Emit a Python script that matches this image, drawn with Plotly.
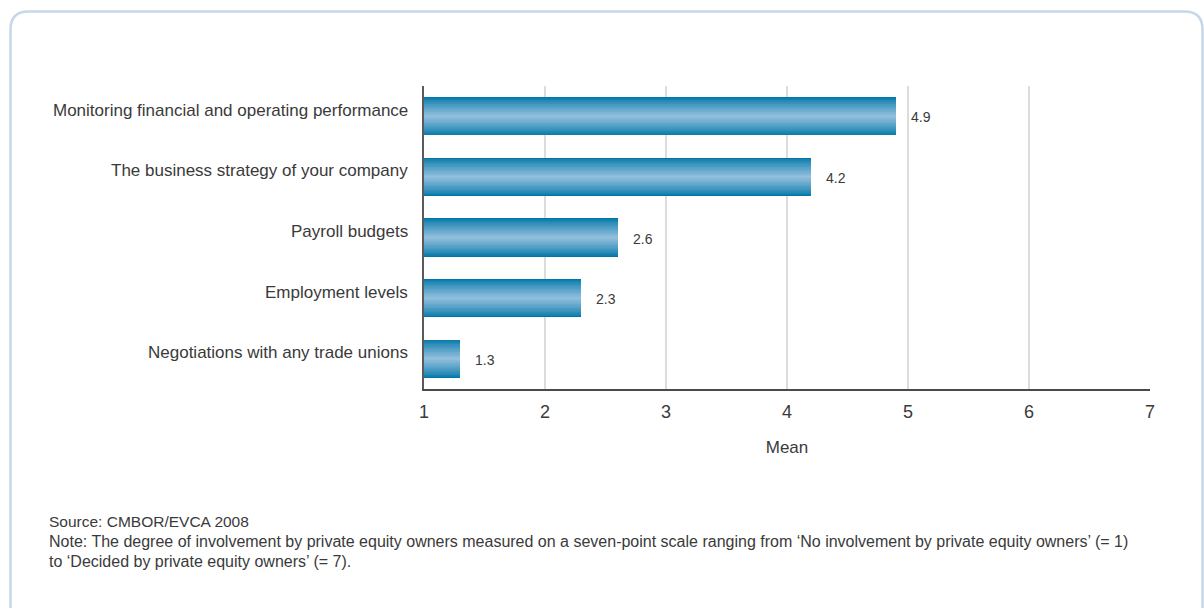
import plotly.graph_objects as go

# Survey results: degree of private equity owner involvement (mean, 1-7 scale)
categories = [
    "Monitoring financial and operating performance",
    "The business strategy of your company",
    "Payroll budgets",
    "Employment levels",
    "Negotiations with any trade unions",
]
means = [4.9, 4.2, 2.6, 2.3, 1.3]
x_ticks = [1, 2, 3, 4, 5, 6, 7]

source_text = "Source: CMBOR/EVCA 2008"
note_lines = [
    "Note: The degree of involvement by private equity owners measured on a seven-point scale ranging from "
    "\u2018No involvement by private equity owners\u2019 (= 1)",
    "to \u2018Decided by private equity owners\u2019 (= 7).",
]

FONT = "Liberation Sans, Arial, sans-serif"
TEXT = "#3a3a3a"

# Canvas geometry (pixels)
W, H = 1204, 608
ML, MR, MT, MB = 424, 54, 86, 219
PW, PH = W - ML - MR, H - MT - MB


def px(x):
    return (x - ML) / PW


def py(y):
    return (H - MB - y) / PH


def blend(c1, c2, t):
    a = [int(c1[i:i + 2], 16) for i in (1, 3, 5)]
    b = [int(c2[i:i + 2], 16) for i in (1, 3, 5)]
    return "#" + "".join(f"{round(p + (q - p) * t):02x}" for p, q in zip(a, b))


fig = go.Figure()

# Shaded bars: nested overlays from the dark outer band to the light centre
bar_width = 0.63
n = 24
for i in range(n):
    t = (i / (n - 1)) ** 0.8
    w = bar_width * (1 - i / n)
    fig.add_trace(go.Bar(
        y=categories, x=means, orientation="h",
        width=w, marker=dict(color=blend("#0077a8", "#90bedc", t), line=dict(width=0)),
        hoverinfo="skip" if i else "x+y", showlegend=False,
    ))

# Category labels left of the axis
for cat in categories:
    fig.add_annotation(x=px(410), y=cat, xref="paper", text=cat, showarrow=False,
                       xanchor="right", yshift=6,
                       font=dict(family=FONT, size=17, color=TEXT))

# Value labels beside each bar
for cat, v in zip(categories, means):
    fig.add_annotation(x=v, y=cat, text=f"{v}", showarrow=False,
                       xanchor="left", xshift=13, yshift=-1,
                       font=dict(family=FONT, size=14, color=TEXT))

# Source and note beneath the chart
fig.add_annotation(x=px(47), y=py(521), xref="paper", yref="paper", text=source_text,
                   showarrow=False, xanchor="left", yanchor="middle",
                   font=dict(family=FONT, size=15.5, color=TEXT))
for k, line in enumerate(note_lines):
    fig.add_annotation(x=px(47), y=py(541 + 20 * k), xref="paper", yref="paper", text=line,
                       showarrow=False, xanchor="left", yanchor="middle",
                       font=dict(family=FONT, size=16, color=TEXT))

# Rounded frame around the figure
x0, y0, x1, y1, r = 10.5, 11.5, 1202.5, 640, 18
path = (f"M {px(x0)},{py(y1)} L {px(x0)},{py(y0 + r)} "
        f"Q {px(x0)},{py(y0)} {px(x0 + r)},{py(y0)} "
        f"L {px(x1 - r)},{py(y0)} Q {px(x1)},{py(y0)} {px(x1)},{py(y0 + r)} "
        f"L {px(x1)},{py(y1)}")
fig.add_shape(type="path", path=path, xref="paper", yref="paper",
              line=dict(color="#c6d7e8", width=2.5), layer="below")

fig.update_layout(
    width=W, height=H,
    margin=dict(l=ML, r=MR, t=MT, b=MB),
    paper_bgcolor="white", plot_bgcolor="white",
    barmode="overlay", bargap=0,
    font=dict(family=FONT, color=TEXT),
    xaxis=dict(
        range=[1, 7], tickvals=x_ticks, ticktext=[str(t) for t in x_ticks],
        showgrid=True, gridcolor="#dcdcdc", gridwidth=2,
        showline=True, linecolor="#4a4a4a", linewidth=1.5,
        zeroline=False, ticks="", ticklabelstandoff=6,
        tickfont=dict(size=18, color=TEXT),
        title=dict(text="Mean", font=dict(size=17, color=TEXT), standoff=20),
    ),
    yaxis=dict(
        categoryorder="array", categoryarray=categories, autorange="reversed",
        showgrid=False, showline=True, linecolor="#5a5a5a", linewidth=2,
        ticks="", showticklabels=False,
    ),
)

fig.write_html("out.html")
